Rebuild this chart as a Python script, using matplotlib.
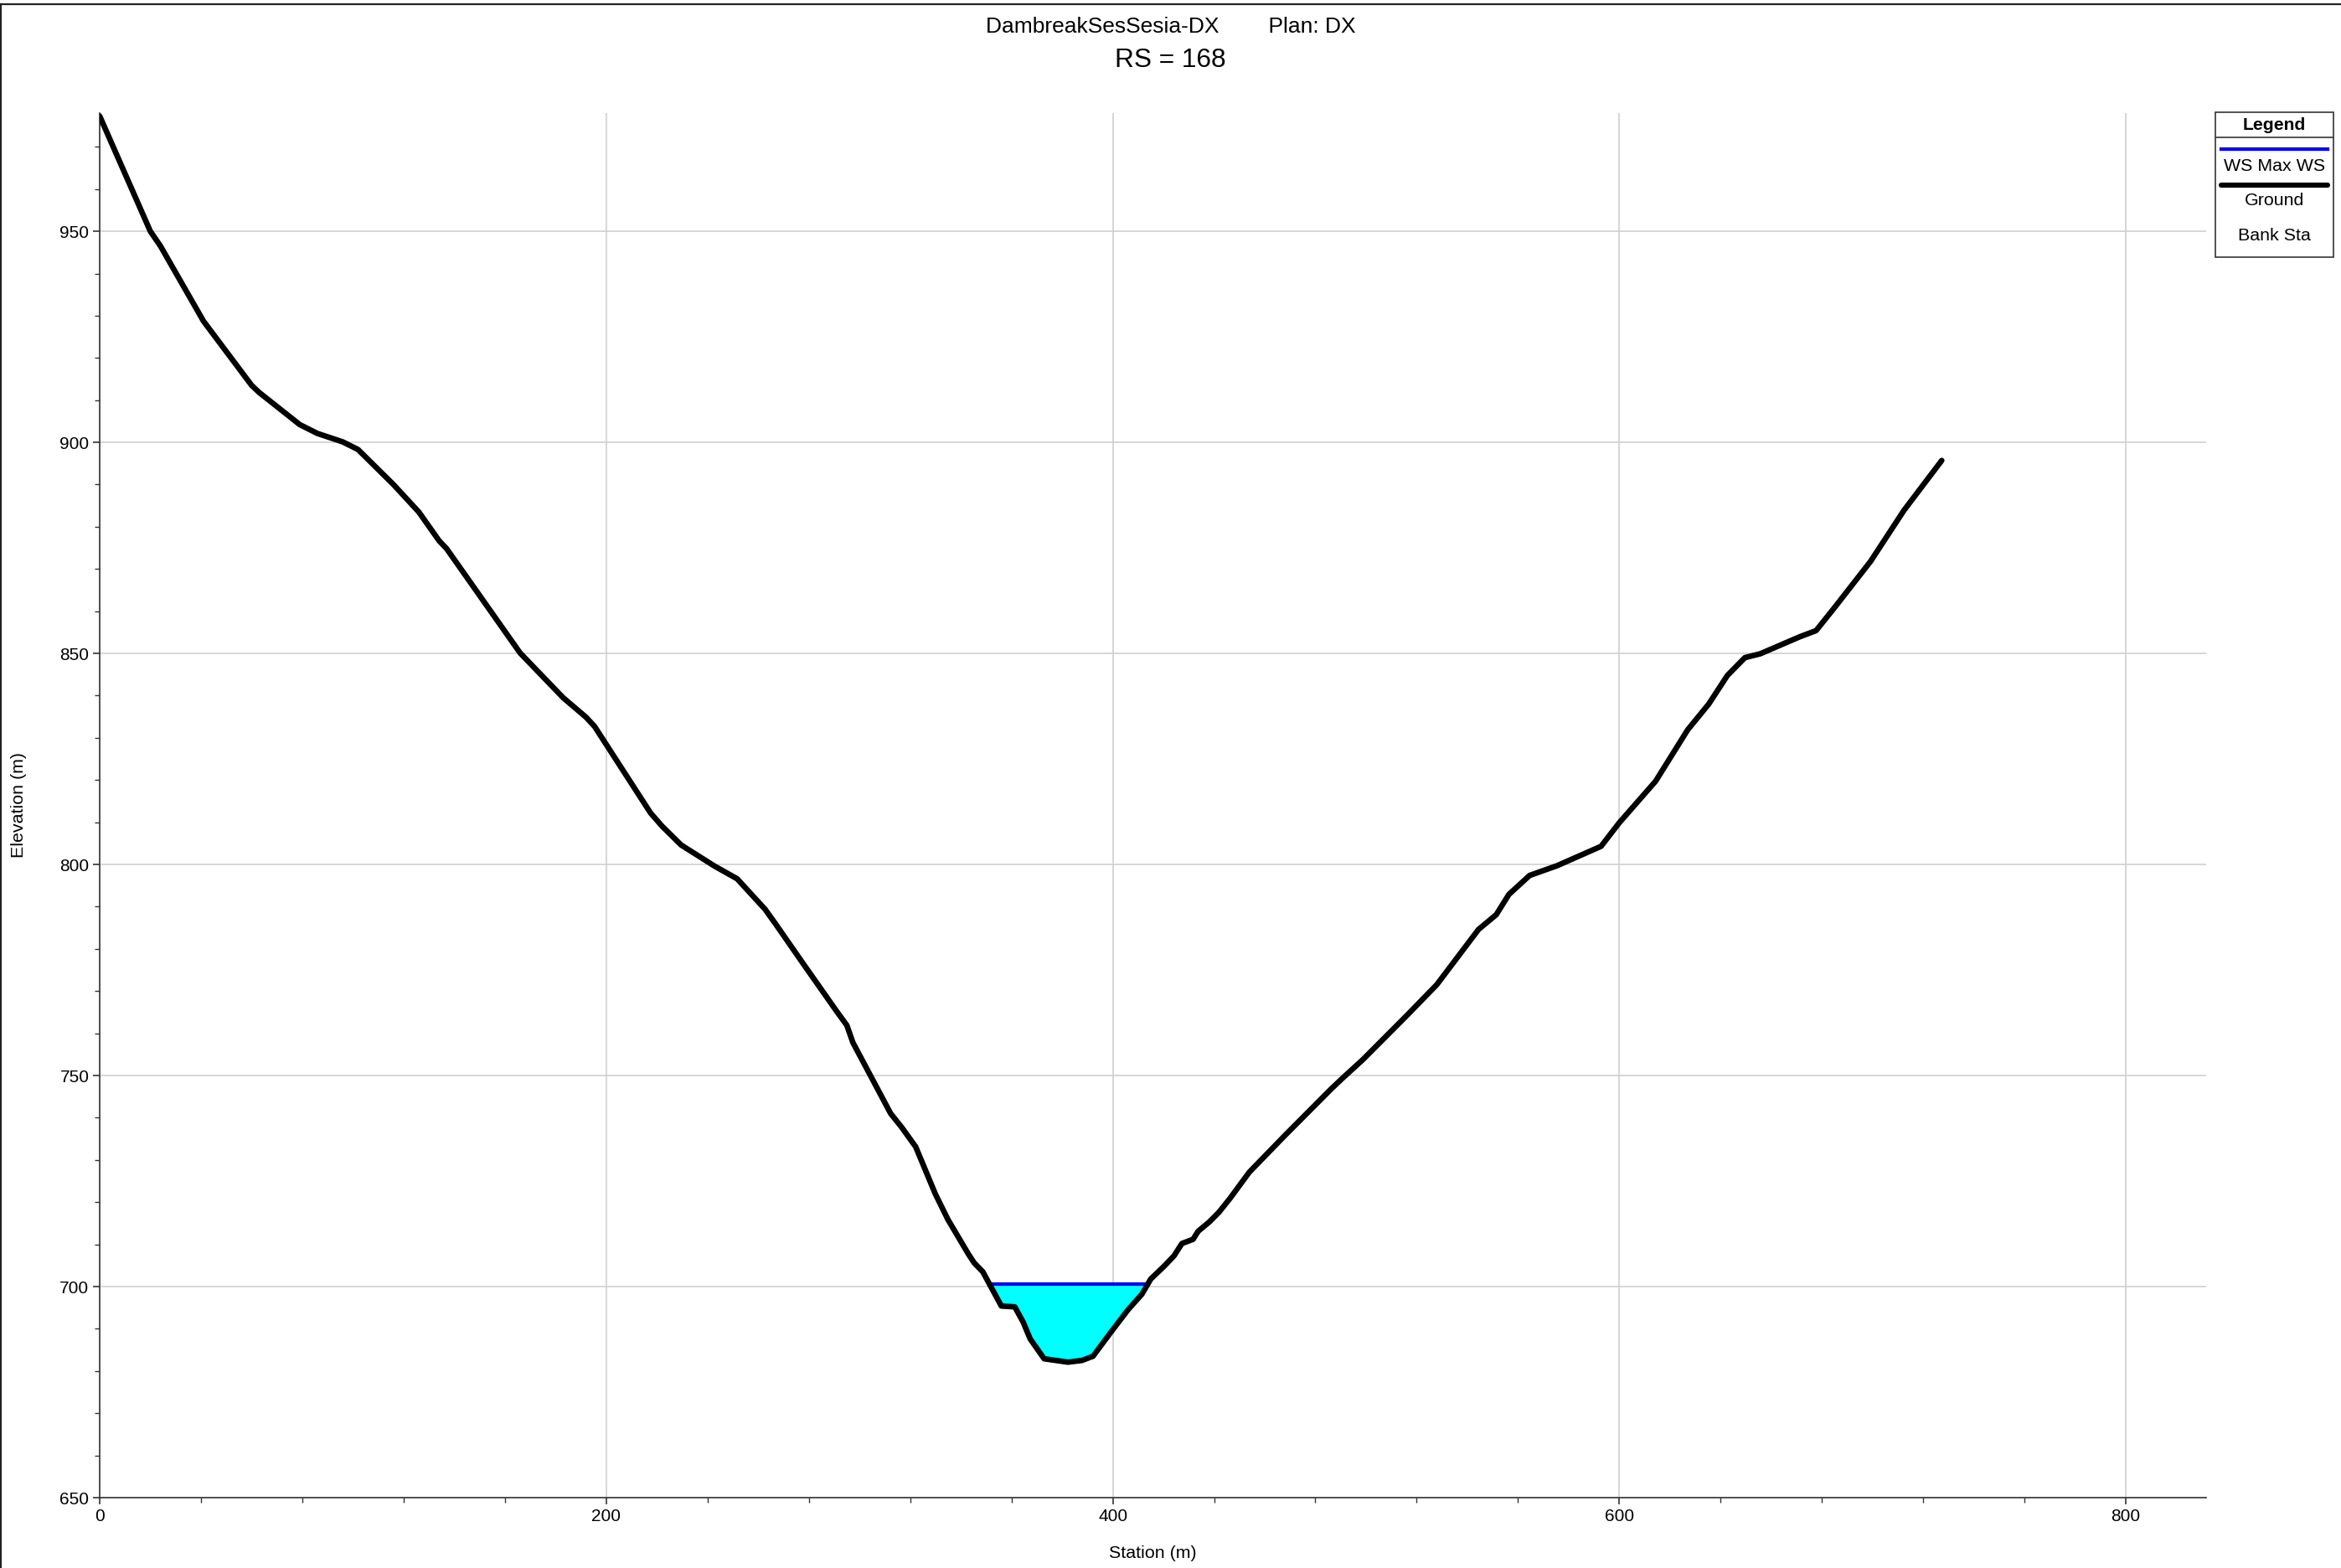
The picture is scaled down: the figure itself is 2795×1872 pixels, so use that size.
import numpy as np
import matplotlib
matplotlib.use("Agg")
from matplotlib import pyplot as plt
from matplotlib.lines import Line2D
from matplotlib.patches import Rectangle
from matplotlib.ticker import MultipleLocator

plt.rcParams['font.family'] = ['Liberation Sans', 'DejaVu Sans']

# cross section RS 168 - station (m), ground elevation (m)
station = [0, 20, 24, 41, 60, 63, 79, 86, 96, 102, 116, 126, 134, 137,
           166, 183, 192, 195.4, 217.5, 222, 229.6, 242.8, 251.7, 262.7,
           267, 278, 291, 295, 297.4, 312.3, 316.7, 322.2, 329.9, 334.9,
           343.1, 345.3, 348.7, 356, 361.3, 364.6, 367.4, 372.9, 382.3,
           387.8, 392.2, 399, 406, 411.5, 415, 420.4, 424.2, 427.3, 431.7,
           433.7, 438.1, 441.9, 446.3, 453.9, 467.8, 486.2, 490.6, 498.8,
           515.9, 527.9, 544.4, 551.4, 556.4, 564.6, 575.4, 592.8, 600,
           614.3, 627, 635.3, 642.7, 649.6, 655.6, 671.1, 677.7, 684.9,
           699.2, 712.4, 727.3]
ground = [977.3, 950, 946.5, 928.7, 913.5, 911.8, 904.2, 902.1, 900.1, 898.3,
          890.0, 883.5, 876.7, 874.8, 850.1, 839.5, 834.9, 832.7, 812.2,
          809.1, 804.6, 799.6, 796.6, 789.4, 785.8, 776.3, 765.2, 761.9,
          757.8, 741.0, 737.7, 733.1, 722.0, 715.9, 707.6, 705.6, 703.5,
          695.4, 695.2, 691.6, 687.6, 682.9, 682.1, 682.5, 683.5, 689,
          694.5, 698.2, 701.8, 704.9, 707.3, 710.2, 711.2, 713.1, 715.3,
          717.6, 720.9, 727.1, 735.7, 746.8, 749.3, 753.8, 764.1, 771.5,
          784.6, 788.1, 792.9, 797.4, 799.7, 804.3, 809.9, 819.7, 831.9,
          838.0, 844.8, 849.0, 849.9, 853.9, 855.4, 860.8, 871.8, 883.9, 895.7]
ws_max = 700.5

title1 = "DambreakSesSesia-DX        Plan: DX"
title2 = "RS = 168"

sta = np.array(station)
gr = np.array(ground)

W, H = 2795, 1872
fig = plt.figure(figsize=(W / 200, H / 200), dpi=200)
ax = fig.add_axes([119 / W, 1 - 1788 / H, (2634 - 119) / W, (1788 - 135) / H])

# water fill
ax.fill_between(sta, gr, ws_max, where=gr <= ws_max, interpolate=True,
                color='#00ffff', linewidth=0, zorder=2)

# where water surface meets the banks
wet = np.where(gr <= ws_max)[0]
i0, i1 = wet[0], wet[-1]
x_left = np.interp(ws_max, [gr[i0], gr[i0 - 1]], [sta[i0], sta[i0 - 1]])
x_right = np.interp(ws_max, [gr[i1], gr[i1 + 1]], [sta[i1], sta[i1 + 1]])
ax.plot([x_left, x_right], [ws_max, ws_max], color='#0000ff', lw=1.5, zorder=3)

ax.plot(sta, gr, color='black', lw=2.4, zorder=4, solid_capstyle='round')

ax.set_xlim(0, 831.7)
ax.set_ylim(650, 978)
ax.xaxis.set_major_locator(MultipleLocator(200))
ax.xaxis.set_minor_locator(MultipleLocator(40))
ax.yaxis.set_major_locator(MultipleLocator(50))
ax.yaxis.set_minor_locator(MultipleLocator(10))
ax.grid(True, which='major', color='#d0d0d0', lw=0.6)
ax.set_axisbelow(True)

for s in ['top', 'right']:
    ax.spines[s].set_visible(False)
for s in ['left', 'bottom']:
    ax.spines[s].set_color('#333333')
    ax.spines[s].set_linewidth(0.6)

ax.tick_params(which='major', length=3, width=0.6, color='#333333',
               labelsize=7.5, pad=1.5)
ax.tick_params(which='minor', length=2, width=0.5, color='#333333')

# axis titles
fig.text((119 + 2634) / 2 / W, 1 - 1854 / H, "Station (m)", ha='center', va='center',
         fontsize=7.7)
fig.text(23 / W, 0.5 * ((1 - 1788 / H) + (1 - 135 / H)), "Elevation (m)",
         ha='center', va='center', rotation=90, fontsize=7.7)

fig.text(0.5, 1 - 32 / H, title1, ha='center', va='center', fontsize=9.5)
fig.text(0.5, 1 - 72 / H, title2, ha='center', va='center', fontsize=11.4)

# legend box
lg = fig.add_axes([2645 / W, 1 - 307 / H, 141 / W, 173 / H])
lg.set_xlim(0, 1)
lg.set_ylim(0, 1)
lg.axis('off')
lg.add_patch(Rectangle((0, 0), 1, 1, fill=False, ec='#333333', lw=0.6,
                       transform=lg.transAxes, clip_on=False))
lg.plot([0, 1], [0.827, 0.827], color='#333333', lw=0.6)
lg.text(0.5, 0.913, "Legend", ha='center', va='center', fontsize=7.6, fontweight='bold')
lg.plot([0.05, 0.95], [0.746, 0.746], color='#0000ff', lw=1.5)
lg.text(0.5, 0.63, "WS Max WS", ha='center', va='center', fontsize=7.7)
lg.plot([0.05, 0.95], [0.497, 0.497], color='black', lw=2.2, solid_capstyle='round')
lg.text(0.5, 0.393, "Ground", ha='center', va='center', fontsize=7.7)
lg.text(0.5, 0.145, "Bank Sta", ha='center', va='center', fontsize=7.7)

# outer frame lines (top and left)
fig.add_artist(Line2D([0, 1], [1 - 5 / H, 1 - 5 / H], color='#222222', lw=0.8,
                      transform=fig.transFigure))
fig.add_artist(Line2D([1 / W, 1 / W], [0, 1 - 5 / H], color='#222222', lw=0.8,
                      transform=fig.transFigure))

fig.savefig("out.png", dpi=200)
